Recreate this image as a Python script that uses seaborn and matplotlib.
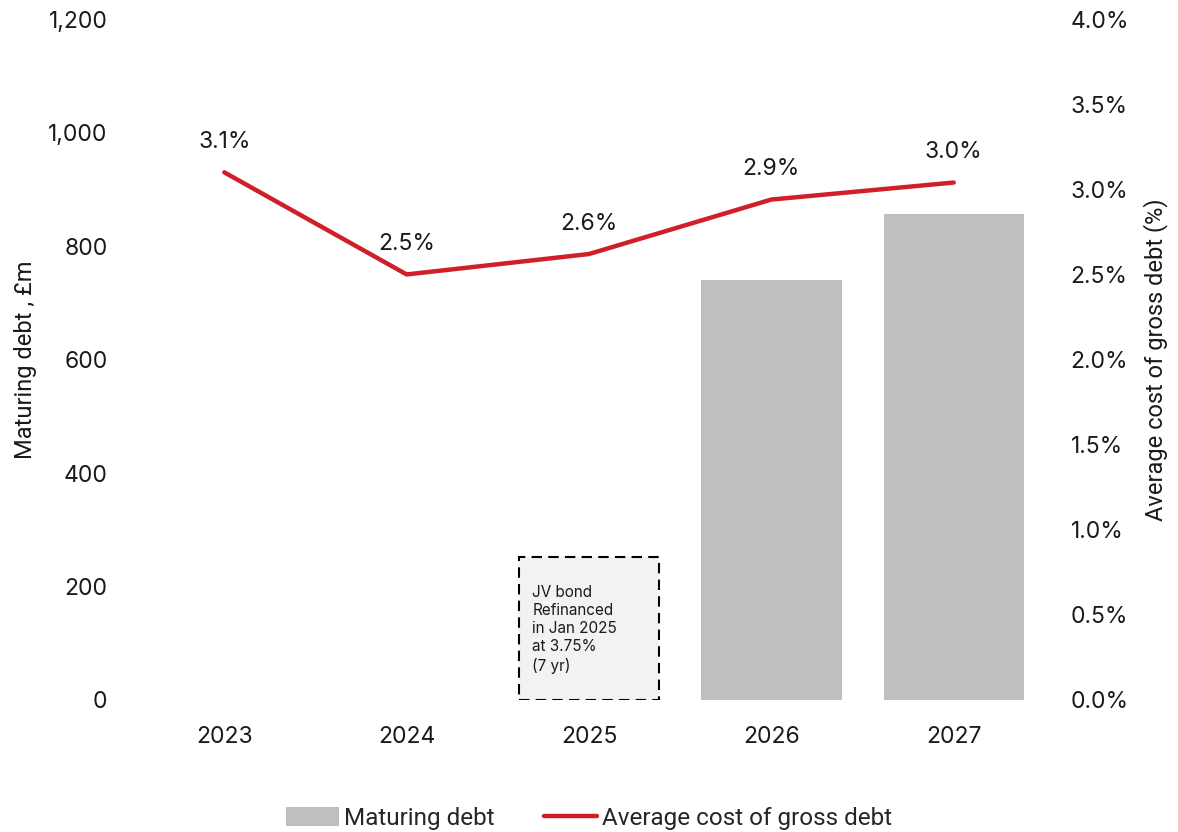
import matplotlib
matplotlib.use("Agg")
import matplotlib.pyplot as plt
from matplotlib.patches import Patch
from matplotlib.lines import Line2D
from matplotlib.ticker import FuncFormatter, MultipleLocator
import seaborn as sns
import pandas as pd
import numpy as np

years = ["2023", "2024", "2025", "2026", "2027"]
maturing_debt = [np.nan, np.nan, np.nan, 741, 857]   # £m
refinanced_bond = [np.nan, np.nan, 252, np.nan, np.nan]  # £m, JV bond refinanced in 2025
avg_cost = [3.10, 2.50, 2.62, 2.94, 3.04]            # %

bar_color = "#bfbfbf"
line_color = "#d01f29"
text_color = "#1a1a1a"
label_font = ["Roboto", "DejaVu Sans"]

sns.set_theme(style="white")
plt.rcParams["font.family"] = ["Inter", "DejaVu Sans"]

df = pd.DataFrame({"year": years, "debt": maturing_debt,
                   "refi": refinanced_bond, "cost": avg_cost})

fig = plt.figure(figsize=(11.78, 8.32), dpi=100)
ax = fig.add_axes([0.113, 0.1587, 0.774, 0.8183])
ax2 = ax.twinx()

# refinanced JV bond shown as a dashed outline box
sns.barplot(data=df, x="year", y="refi", order=years, ax=ax,
            color="#f2f2f2", saturation=1, width=0.77,
            edgecolor="black", linestyle=(0, (5, 3)), linewidth=1.5)
# maturing debt bars
sns.barplot(data=df, x="year", y="debt", order=years, ax=ax,
            color=bar_color, saturation=1, width=0.77, linewidth=0)

sns.lineplot(data=df, x="year", y="cost", ax=ax2, color=line_color,
             linewidth=3.2, sort=False)

ax.set_ylim(0, 1200)
ax.set_xlim(-0.5, 4.5)
ax.yaxis.set_major_locator(MultipleLocator(200))
ax.yaxis.set_major_formatter(FuncFormatter(lambda v, p: f"{v:,.0f}"))
ax2.set_ylim(0, 4.0)
ax2.yaxis.set_major_locator(MultipleLocator(0.5))
ax2.yaxis.set_major_formatter(FuncFormatter(lambda v, p: f"{v:.1f}%"))

for a in (ax, ax2):
    for s in a.spines.values():
        s.set_visible(False)
    a.tick_params(axis="both", length=0, labelsize=16.5, colors=text_color)
    a.grid(False)
ax.tick_params(axis="y", pad=18.5)
ax.tick_params(axis="x", pad=19)
ax2.tick_params(axis="y", pad=18.5)

ax.set_xlabel("")
ax.set_ylabel("Maturing debt , £m", family=label_font,
              fontsize=17, color=text_color, labelpad=8)
ax2.set_ylabel("Average cost of gross debt (%)", family=label_font,
               fontsize=17, color=text_color, labelpad=10)
ax2.set_xlabel("")

# value labels above the line
for i, v in enumerate(avg_cost):
    ax2.annotate(f"{v:.1f}%", (i, v), xytext=(0, 14), textcoords="offset points",
                 ha="center", va="bottom", fontsize=16.5, color=text_color)

# note inside the dashed box
i25 = years.index("2025")
ax.text(i25 - 0.31, refinanced_bond[i25] - 50,
        "JV bond\nRefinanced\nin Jan 2025\nat 3.75%\n(7 yr)",
        ha="left", va="top", fontsize=11, color=text_color, linespacing=1.25)

handles = [Patch(facecolor=bar_color, edgecolor="none", label="Maturing debt"),
           Line2D([0], [0], color=line_color, linewidth=3.2,
                  label="Average cost of gross debt")]
fig.legend(handles=handles, loc="lower center", bbox_to_anchor=(0.5, -0.024),
           ncol=2, frameon=False, handlelength=2.2, handleheight=0.85,
           columnspacing=2.0, handletextpad=0.2,
           prop={"family": label_font, "size": 17.5})

fig.savefig("out.png", dpi=100)
